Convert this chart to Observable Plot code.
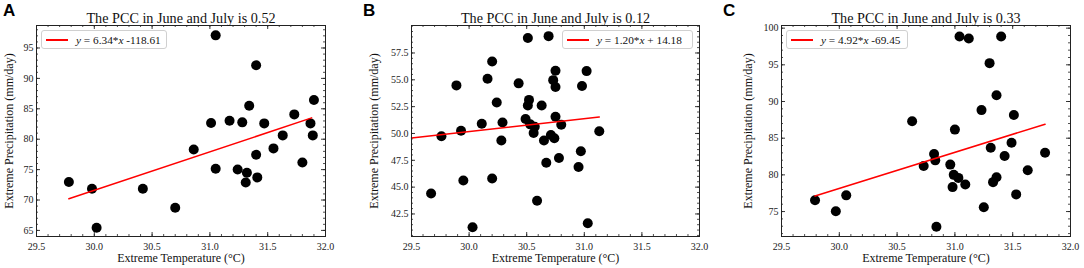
<!DOCTYPE html>
<html><head><meta charset="utf-8">
<script src="https://cdn.jsdelivr.net/npm/d3@7"></script>
<script src="https://cdn.jsdelivr.net/npm/@observablehq/plot@0.6"></script>
<style>
body{margin:0;background:#fff;}
#wrap{position:relative;width:1084px;height:268px;overflow:hidden;font-family:"Liberation Serif",serif;}
.panel{position:absolute;top:0;}
.letter{position:absolute;top:1px;font:bold 17px "Liberation Sans",Arial,sans-serif;color:#000;}
.legend{position:absolute;box-sizing:border-box;height:19px;border:1px solid #d0d0d0;border-radius:3px;background:rgba(255,255,255,0.9);font:11.3px "Liberation Serif",serif;color:#111;display:flex;align-items:center;white-space:nowrap;}
.legend .sw{display:inline-block;width:22px;height:2px;background:#ff0000;margin:0 8px 0 4px;}
</style></head>
<body><div id="wrap"></div>
<script>
// ---------- data ----------
const tempA = [29.78, 29.98, 30.02, 30.42, 30.70, 30.86, 31.05, 31.01, 31.05, 31.17, 31.24, 31.28, 31.34, 31.32, 31.31, 31.40, 31.40, 31.41, 31.47, 31.55, 31.63, 31.73, 31.80, 31.87, 31.90, 31.89];
const precipA = [72.95, 71.85, 65.43, 71.85, 68.72, 78.32, 97.08, 82.66, 75.14, 83.04, 75.03, 82.77, 85.51, 74.48, 72.89, 92.15, 77.45, 73.72, 82.60, 78.49, 80.63, 84.08, 76.18, 82.60, 86.44, 80.63];

const tempB = [29.67, 29.76, 29.89, 29.93, 29.95, 30.03, 30.11, 30.16, 30.20, 30.20, 30.24, 30.28, 30.29, 30.43, 30.51, 30.52, 30.51, 30.49, 30.53, 30.57, 30.56, 30.59, 30.63, 30.65, 30.67, 30.69, 30.71, 30.73, 30.74, 30.75, 30.75, 30.75, 30.78, 30.80, 30.95, 30.97, 30.98, 31.02, 31.03, 31.13];
const precipB = [44.41, 49.74, 54.48, 50.26, 45.61, 41.27, 50.91, 55.10, 56.70, 45.80, 52.88, 49.34, 51.03, 54.67, 58.89, 53.13, 52.60, 51.34, 50.85, 50.63, 50.05, 43.73, 52.60, 49.34, 47.27, 59.07, 49.86, 54.97, 49.55, 54.33, 55.84, 51.56, 47.71, 50.82, 46.87, 48.35, 54.42, 55.81, 41.64, 50.20];

const tempC = [29.79, 29.97, 30.06, 30.63, 30.73, 30.82, 30.83, 30.84, 30.96, 30.98, 30.99, 31.00, 31.03, 31.04, 31.09, 31.12, 31.23, 31.25, 31.30, 31.31, 31.33, 31.36, 31.36, 31.40, 31.43, 31.49, 31.51, 31.53, 31.63, 31.78];
const precipC = [76.53, 75.05, 77.21, 87.30, 81.22, 82.84, 81.98, 72.93, 81.40, 78.33, 80.00, 86.17, 79.59, 98.87, 78.69, 98.60, 88.83, 75.59, 95.23, 83.69, 79.01, 79.68, 90.86, 98.87, 82.57, 84.37, 88.15, 77.34, 80.63, 83.02];

const slopes = [6.34, 1.20, 4.92];
const intercepts = [-118.61, 14.18, -69.45];
const fitRanges = [[29.78, 31.88], [29.5, 31.13], [29.79, 31.78]];
const equations = ["6.34*", "1.20*", "4.92*"];
const equationTails = [" -118.61", " + 14.18", " -69.45"];
const pccValues = ["0.52", "0.12", "0.33"];
const letters = ["A", "B", "C"];

const xTicks = [29.5, 30.0, 30.5, 31.0, 31.5, 32.0];
const yTicksA = [65, 70, 75, 80, 85, 90, 95];
const yTicksB = [42.5, 45.0, 47.5, 50.0, 52.5, 55.0, 57.5];
const yTicksC = [75, 80, 85, 90, 95, 100];

const xLabel = "Extreme Temperature (°C)";
const yLabel = "Extreme Precipitation (mm/day)";

// ---------- layout ----------
const H = 268, MT = 25, MB = 32;
const panels = [
  {temp: tempA, precip: precipA, yTicks: yTicksA, yMinorStep: 1, yDomain: [64.0, 98.7], yFmt: d => d.toFixed(0),
   left: 0, width: 360, ml: 36, mr: 35, ylabDx: -27, legendLeft: 41, legendWidth: 126},
  {temp: tempB, precip: precipB, yTicks: yTicksB, yMinorStep: 0.5, yDomain: [40.4, 60.06], yFmt: d => d.toFixed(1),
   left: 360, width: 360, ml: 51, mr: 21, ylabDx: -37, legendLeft: 562, legendWidth: 131},
  {temp: tempC, precip: precipC, yTicks: yTicksC, yMinorStep: 1, yDomain: [71.6, 100.36], yFmt: d => d.toFixed(0),
   left: 720, width: 364, ml: 61, mr: 14, ylabDx: -33, legendLeft: 786, legendWidth: 122}
];

const wrap = document.getElementById("wrap");
const ink = "#222";
const FONT = "'Liberation Serif', 'Times New Roman', serif";

panels.forEach((p, i) => {
  const plotH = H - MT - MB;
  const plotW = p.width - p.ml - p.mr;
  const pts = p.temp.map((t, j) => ({t, v: p.precip[j]}));
  const fit = fitRanges[i].map(t => ({t, v: slopes[i] * t + intercepts[i]}));
  const xMinor = d3.range(29.5, 32.0001, 0.1).map(d => +d.toFixed(2));
  const yMinor = d3.range(Math.ceil(p.yDomain[0] / p.yMinorStep) * p.yMinorStep, p.yDomain[1], p.yMinorStep);
  const maj = 4, mnr = 2;

  const chart = Plot.plot({
    width: p.width, height: H,
    marginLeft: p.ml, marginRight: p.mr, marginTop: MT, marginBottom: MB,
    style: {fontFamily: FONT, fontSize: "10px", color: ink, background: "transparent", overflow: "visible"},
    x: {domain: [29.5, 32.0]},
    y: {domain: p.yDomain},
    marks: [
      Plot.axisX({ticks: xTicks, tickSize: 0, tickPadding: 6, tickFormat: d => d.toFixed(1), label: null, fontSize: 10}),
      Plot.axisY({ticks: p.yTicks, tickSize: 0, tickPadding: 3, tickFormat: p.yFmt, label: null, fontSize: 10}),
      // inward minor ticks
      Plot.tickX(xMinor, {x: d => d, insetTop: plotH - mnr, stroke: ink, strokeWidth: 0.8}),
      Plot.tickX(xMinor, {x: d => d, insetBottom: plotH - mnr, stroke: ink, strokeWidth: 0.8}),
      Plot.tickY(yMinor, {y: d => d, insetRight: plotW - mnr, stroke: ink, strokeWidth: 0.8}),
      Plot.tickY(yMinor, {y: d => d, insetLeft: plotW - mnr, stroke: ink, strokeWidth: 0.8}),
      // inward major ticks
      Plot.tickX(xTicks, {x: d => d, insetTop: plotH - maj, stroke: ink, strokeWidth: 0.9}),
      Plot.tickX(xTicks, {x: d => d, insetBottom: plotH - maj, stroke: ink, strokeWidth: 0.9}),
      Plot.tickY(p.yTicks, {y: d => d, insetRight: plotW - maj, stroke: ink, strokeWidth: 0.9}),
      Plot.tickY(p.yTicks, {y: d => d, insetLeft: plotW - maj, stroke: ink, strokeWidth: 0.9}),
      Plot.dot(pts, {x: "t", y: "v", r: 5, fill: "black", stroke: null}),
      Plot.line(fit, {x: "t", y: "v", stroke: "red", strokeWidth: 1.5}),
      Plot.frame({stroke: ink, strokeWidth: 1}),
      Plot.text([`The PCC in June and July is ${pccValues[i]}`], {text: d => d, frameAnchor: "top", dy: -13, fontSize: 14.2, fill: "#111"}),
      Plot.text([xLabel], {text: d => d, frameAnchor: "bottom", dy: 25, fontSize: 12, fill: "#111"}),
      Plot.text([yLabel], {text: d => d, frameAnchor: "left", textAnchor: "middle", rotate: -90, dx: p.ylabDx, fontSize: 12, fill: "#111"})
    ]
  });
  chart.classList.add("panel");
  chart.style.left = p.left + "px";
  wrap.appendChild(chart);

  const L = document.createElement("div");
  L.className = "letter";
  L.style.left = (p.left + 3) + "px";
  L.textContent = letters[i];
  wrap.appendChild(L);

  const lg = document.createElement("div");
  lg.className = "legend";
  lg.style.left = p.legendLeft + "px";
  lg.style.top = "30px";
  lg.style.width = p.legendWidth + "px";
  lg.innerHTML = `<span class="sw"></span><span><i>y</i> = ${equations[i]}<i>x</i>${equationTails[i]}</span>`;
  wrap.appendChild(lg);
});
</script>
</body></html>
